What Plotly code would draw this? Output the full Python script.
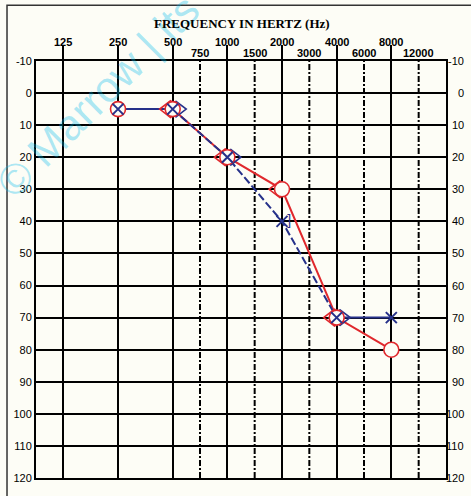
import math
import plotly.graph_objects as go

# ---------------- data ----------------
FREQ_LABELS = [125, 250, 500, 750, 1000, 1500, 2000, 3000, 4000, 6000, 8000, 12000]
DB_TICKS = list(range(-10, 121, 10))

AIR_FREQS = [250, 500, 1000, 2000, 4000, 8000]
RIGHT_AIR_DB = [5, 5, 20, 30, 70, 80]      # red O
LEFT_AIR_DB = [5, 5, 20, 40, 70, 70]       # blue X

RIGHT_BONE_FREQS = [500, 1000, 2000, 4000]  # red <
RIGHT_BONE_DB = [5, 20, 30, 70]
LEFT_BONE_FREQS = [500, 1000, 4000]         # blue >
LEFT_BONE_DB = [5, 20, 70]
LEFT_MASKED_BONE_FREQS = [2000]             # blue ]
LEFT_MASKED_BONE_DB = [40]

TITLE = "FREQUENCY IN HERTZ (Hz)"
WATERMARK = "© Marrow | its"

# ---------------- style ----------------
RED = "#e0282d"
BLUE = "#26318a"
BG = "#fdfdf6"
RED_BONE_OFFSET = -0.10
BLUE_BONE_OFFSET = 0.12
MASK_OFFSET = 0.13


def pos(f):
    """audiogram position in octaves above 125 Hz (half-octave steps)"""
    return round(2 * math.log2(f / 125)) / 2


octave_freqs = [f for f in FREQ_LABELS if pos(f) % 1 == 0]
half_freqs = [f for f in FREQ_LABELS if pos(f) % 1 != 0]

ax = [pos(f) for f in AIR_FREQS]

fig = go.Figure()

# red air line
fig.add_trace(go.Scatter(x=ax, y=RIGHT_AIR_DB, mode="lines",
                         line=dict(color=RED, width=2), hoverinfo="skip"))
# blue air line: solid ends, dashed middle
fig.add_trace(go.Scatter(x=ax[0:2], y=LEFT_AIR_DB[0:2], mode="lines",
                         line=dict(color=BLUE, width=2), hoverinfo="skip"))
fig.add_trace(go.Scatter(x=ax[1:5], y=LEFT_AIR_DB[1:5], mode="lines",
                         line=dict(color=BLUE, width=2, dash="8px,3px"), hoverinfo="skip"))
fig.add_trace(go.Scatter(x=ax[4:6], y=LEFT_AIR_DB[4:6], mode="lines",
                         line=dict(color=BLUE, width=2), hoverinfo="skip"))

# bone conduction (back edges hidden beneath the circles drawn next)
fig.add_trace(go.Scatter(x=[pos(f) + RED_BONE_OFFSET for f in RIGHT_BONE_FREQS], y=RIGHT_BONE_DB,
                         mode="markers",
                         marker=dict(symbol="triangle-left-open", size=15, color=RED,
                                     line=dict(color=RED, width=1.6))))
fig.add_trace(go.Scatter(x=[pos(f) + BLUE_BONE_OFFSET for f in LEFT_BONE_FREQS], y=LEFT_BONE_DB,
                         mode="markers",
                         marker=dict(symbol="triangle-right-open", size=14, color=BLUE,
                                     line=dict(color=BLUE, width=1.6))))
# red circles
fig.add_trace(go.Scatter(x=ax, y=RIGHT_AIR_DB, mode="markers",
                         marker=dict(symbol="circle", size=15, color=BG,
                                     line=dict(color=RED, width=1.6))))
fig.add_trace(go.Scatter(x=[pos(f) + MASK_OFFSET for f in LEFT_MASKED_BONE_FREQS],
                         y=LEFT_MASKED_BONE_DB,
                         mode="text", text=["]"] * len(LEFT_MASKED_BONE_FREQS),
                         textposition="middle center",
                         textfont=dict(family="Liberation Sans", size=14, color=BLUE)))
# blue X
fig.add_trace(go.Scatter(x=ax, y=LEFT_AIR_DB, mode="markers",
                         marker=dict(symbol="x-thin-open", size=11, color=BLUE,
                                     line=dict(color=BLUE, width=2))))

shapes = []
# half-octave dashed lines
for f in half_freqs:
    shapes.append(dict(type="line", xref="x", yref="paper", x0=pos(f), x1=pos(f),
                       y0=0, y1=1, layer="below",
                       line=dict(color="black", width=2, dash="6px,2px,2px,2px")))
# outer frame (top and left visible)
shapes.append(dict(type="rect", xref="paper", yref="paper", x0=-0.0707, x1=1.3,
                   y0=-0.3, y1=1.1337, line=dict(color="#333333", width=1.5)))

annotations = []
annotations.append(dict(x=0.15, y=0.917, xref="paper", yref="paper", text=WATERMARK,
                        showarrow=False, xanchor="center", yanchor="middle", textangle=-45,
                        font=dict(family="Liberation Sans", size=43,
                                  color="rgba(0,185,235,0.33)")))
for f in octave_freqs:
    annotations.append(dict(x=pos(f), y=1.045, xref="x", yref="paper", text=str(f),
                            showarrow=False, xanchor="center", yanchor="middle",
                            font=dict(family="Liberation Sans", size=11, color="black",
                                      weight="bold")))
for f in half_freqs:
    annotations.append(dict(x=pos(f), y=1.019, xref="x", yref="paper", text=str(f),
                            showarrow=False, xanchor="center", yanchor="middle",
                            font=dict(family="Liberation Sans", size=11, color="black",
                                      weight="bold")))
for d in DB_TICKS:
    annotations.append(dict(x=1.0488, y=d, xref="paper", yref="y", text=str(d),
                            showarrow=False, xanchor="right", yanchor="middle",
                            font=dict(family="Liberation Sans", size=11, color="black")))
annotations.append(dict(x=0.503, y=1.09, xref="paper", yref="paper", text=TITLE,
                        showarrow=False, xanchor="center", yanchor="middle",
                        font=dict(family="Liberation Serif", size=13, color="black",
                                  weight="bold")))

fig.update_layout(
    width=471, height=496,
    margin=dict(l=36, r=25, t=61, b=16),
    paper_bgcolor=BG, plot_bgcolor=BG,
    showlegend=False,
    shapes=shapes, annotations=annotations,
    xaxis=dict(range=[pos(FREQ_LABELS[0]) - 0.5, pos(FREQ_LABELS[-1]) + 0.5],
               side="top", tickmode="array", tickvals=[pos(f) for f in octave_freqs],
               showticklabels=False, ticks="outside", ticklen=14, tickwidth=2,
               tickcolor="black", showgrid=True, gridcolor="black", gridwidth=2,
               zeroline=False, showline=True, linecolor="black", linewidth=2, mirror=True,
               fixedrange=True),
    yaxis=dict(range=[120, -10], tickmode="array", tickvals=DB_TICKS,
               ticktext=[str(d) for d in DB_TICKS], ticks="",
               tickfont=dict(family="Liberation Sans", size=11, color="black"),
               showgrid=True, gridcolor="black", gridwidth=2, zeroline=False,
               showline=True, linecolor="black", linewidth=2, mirror=True,
               fixedrange=True),
)

fig.write_html("out.html", config={"displayModeBar": False},
               post_script="document.body.style.margin='0';document.body.style.overflow='hidden';")
